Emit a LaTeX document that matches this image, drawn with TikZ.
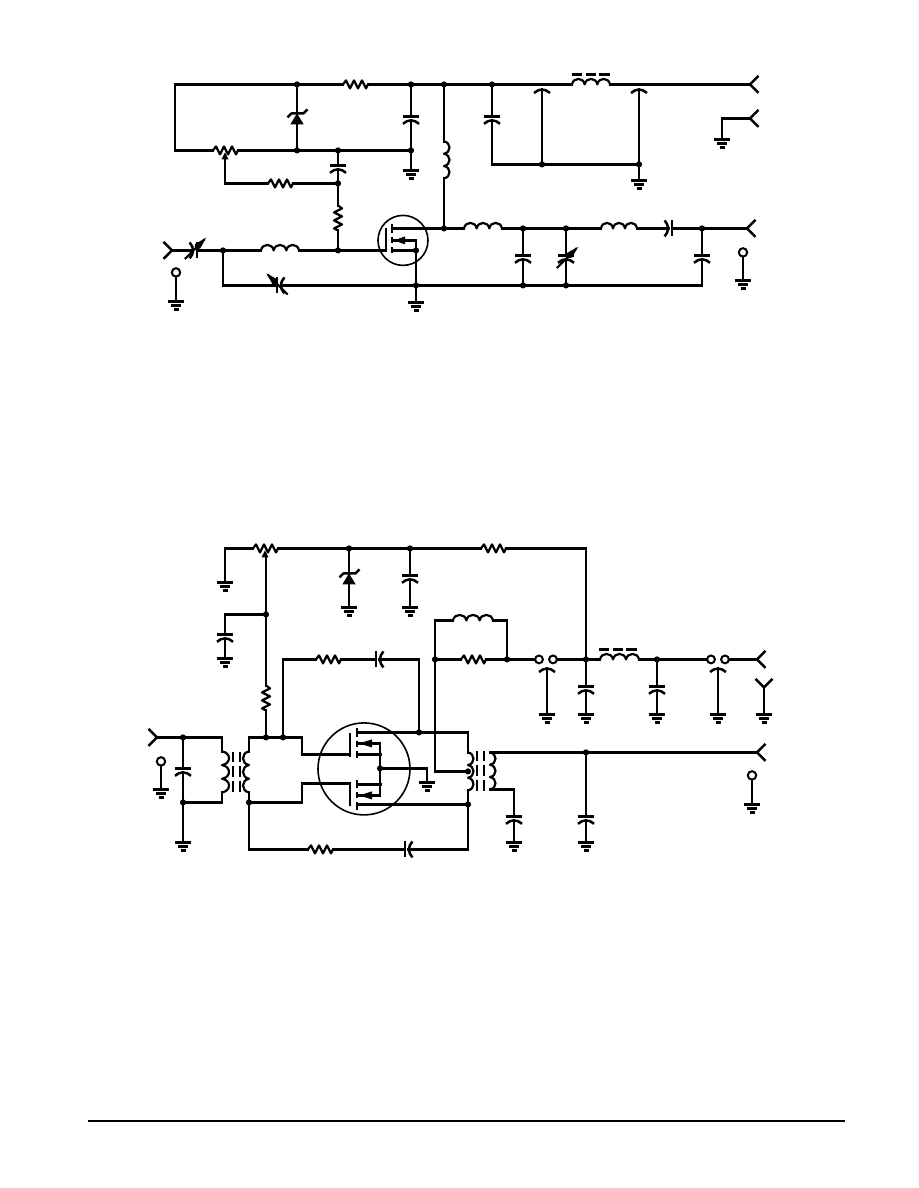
\documentclass[tikz,border=0pt]{standalone}
\tikzset{
  x=1pt,y=-1pt,
  wire/.style={line width=2.9pt,line cap=rect,line join=miter},
  sym/.style={line width=2.2pt,line join=round},
  plate/.style={line width=2.9pt},
  thin ring/.style={line width=1.6pt},
  jdot/.style={circle,fill=black,inner sep=0pt,minimum size=6.2pt},
  term/.style={circle,draw=black,fill=white,line width=2pt,inner sep=0pt,minimum size=8.4pt},
  pics/res/.style={code={\draw[sym] (0,0)--(3,-4)--(7,4)--(11,-4)--(15,4)--(19,-4)--(23,4)--(25,0);}},
  pics/pot/.style={code={\draw[sym] (0,0)--(3,-4)--(7,4)--(11,-4)--(15,4)--(19,-4)--(23,4)--(25,0);
     \fill (12,2)--(8.5,9)--(15.5,9)--cycle;}},
  pics/coil/.style 2 args={code={
     \pgfmathsetmacro\cw{#1/3}\pgfmathsetmacro\ch{-1.33*#2}
     \draw[sym] (0,0) .. controls (0.1*\cw,\ch) and (0.9*\cw,\ch) .. (\cw,0)
       .. controls (1.1*\cw,\ch) and (1.9*\cw,\ch) .. (2*\cw,0)
       .. controls (2.1*\cw,\ch) and (2.9*\cw,\ch) .. (3*\cw,0);}},
  pics/caparc/.style={code={\draw[sym,line width=2.5pt] (-8,3.6) .. controls (-3,-1) and (3,-1) .. (8,3.6);}},
  pics/cap/.style={code={\draw[plate] (-8,0)--(8,0);
     \draw[sym,line width=2.5pt] (-8,7.4) .. controls (-3,2.8) and (3,2.8) .. (8,7.4);}},
  pics/varrow/.style={code={\draw[line width=2.2pt] (-15,0)--(13,0);
     \fill (15,0)--(3,-3.4)--(-1,0)--(3,3.4)--cycle;}},
  pics/zener/.style={code={\fill (0,0)--(-6.7,11)--(6.7,11)--cycle;
     \draw[sym,line width=2.5pt] (-9.5,4)--(-5.5,0)--(6.5,0)--(10.5,-4);}},
  pics/gnd/.style={code={\draw[plate] (-8,0)--(8,0) (-5,4)--(5,4) (-2.5,8)--(2.5,8);}},
  pics/tip/.style={code={\draw[line width=2.4pt,line join=miter] (8.5,-8.5)--(0,0)--(8.5,8.5);}},
  pics/coredash/.style={code={\draw[line width=2.6pt] (0,0)--(10,0) (14,0)--(24,0) (27,0)--(38,0);}},
  pics/core/.style={code={\draw[line width=2.3pt] (0,0)--(0,10) (0,14)--(0,25) (0,29)--(0,40)
       (7,0)--(7,10) (7,14)--(7,25) (7,29)--(7,40);}},
}
\newcommand{\Jn}[3]{\coordinate (#1) at (#2,#3);\node[jdot] (#1-dot) at (#2,#3) {};}
\newcommand{\Pt}[3]{\coordinate (#1) at (#2,#3);}
\begin{document}
\begin{tikzpicture}
\useasboundingbox (0,-0.4) rectangle (918,1187.6);

%% ---------- upper circuit: junctions and end points
\Pt{tl}{175}{84}\Jn{zt}{297}{84}\Pt{ra1}{343}{84}\Pt{ra2}{368}{84}
\Jn{ct}{411}{84}\Jn{dr}{444}{84}\Jn{kt}{492}{84}\Pt{la1}{572}{84}\Pt{la2}{610}{84}\Pt{o1}{750}{84}
\Pt{bl}{175}{150}\Pt{pa1}{213}{150}\Pt{pa2}{238}{150}\Jn{zb}{297}{150}\Jn{mc}{338}{150}\Jn{cb}{411}{150}
\Pt{ctp}{411}{116}\Pt{ctq}{411}{120}\Pt{ctg}{411}{170}
\Pt{ktp}{492}{116}\Pt{ktq}{492}{120}\Pt{kb}{492}{164}\Jn{kc}{542}{164}\Jn{kd}{639}{164}
\Pt{kcu}{542}{89}\Pt{kdu}{639}{89}\Pt{kdg}{639}{180}
\Pt{o2}{750}{118}\Pt{o2c}{722}{118}\Pt{o2g}{722}{139}
\Pt{pw}{225}{156}\Pt{pwc}{225}{183}\Pt{rb1}{268}{183}\Pt{rb2}{293}{183}\Jn{mj}{338}{183}
\Pt{mcp}{338}{165}\Pt{mcq}{338}{169}\Pt{rc1}{338}{205}\Pt{rc2}{338}{230}\Jn{gj}{338}{250}
\Pt{i1}{172}{250}\Pt{vc1}{191}{250}\Pt{vc2}{197}{250}\Jn{ij}{223}{250}\Pt{lb1}{261}{250}\Pt{lb2}{299}{250}\Pt{gt}{386}{250}
\Pt{il}{223}{285}\Pt{vb1}{277}{285}\Pt{vb2}{281}{285}\Jn{sj}{416}{285}\Jn{rj}{523}{285}\Jn{rk}{566}{285}\Pt{rr}{702}{285}
\Pt{lv1}{444}{141}\Pt{lv2}{444}{178}\Jn{dj}{444}{228}\Pt{dn}{392}{228}
\Pt{lc1}{464}{228}\Pt{lc2}{502}{228}\Jn{uj}{523}{228}\Jn{uk}{566}{228}\Pt{ld1}{601}{228}\Pt{ld2}{637}{228}
\Pt{hc1}{668.5}{228}\Pt{hc2}{672}{228}\Jn{um}{702}{228}\Pt{o3}{747}{228}
\Pt{ujp}{523}{255}\Pt{ujq}{523}{259}\Pt{ukp}{566}{255}\Pt{ukq}{566}{259}\Pt{ump}{702}{255}\Pt{umq}{702}{259}
\Jn{ss}{416}{250}\Pt{sn}{392}{250}\Pt{an}{392}{240}\Pt{ac}{416}{240}\Pt{sg}{416}{302}

%% upper wires
\draw[wire] (zt)--(tl)--(bl)--(pa1);
\draw[wire] (zt)--(ra1) (ra2)--(ct)--(dr)--(kt)--(la1) (la2)--(o1);
\draw[wire] (pa2)--(zb)--(mc)--(cb);
\draw[wire] (zt)--(zb);
\draw[wire] (ct)--(ctp) (ctq)--(cb)--(ctg);
\draw[wire] (kt)--(ktp) (ktq)--(kb)--(kc)--(kd)--(kdg);
\draw[wire] (kc)--(kcu) (kd)--(kdu);
\draw[wire] (o2)--(o2c)--(o2g);
\draw[wire] (pw)--(pwc)--(rb1) (rb2)--(mj);
\draw[wire] (mc)--(mcp) (mcq)--(mj)--(rc1) (rc2)--(gj);
\draw[wire] (i1)--(vc1) (vc2)--(ij)--(lb1) (lb2)--(gj)--(gt);
\draw[wire] (ij)--(il)--(vb1) (vb2)--(sj)--(rj)--(rk)--(rr)--(umq);
\draw[wire] (dr)--(lv1) (lv2)--(dj);
\draw[wire] (dn)--(dj)--(lc1) (lc2)--(uj)--(uk)--(ld1) (ld2)--(hc1) (hc2)--(um)--(o3);
\draw[wire] (uj)--(ujp) (ujq)--(rj) (uk)--(ukp) (ukq)--(rk) (um)--(ump);
\draw[wire] (sn)--(ss)--(sj)--(sg) (an)--(ac)--(ss);

%% upper symbols
\pic at (ra1) {res};
\pic at (pa1) {pot};
\pic at (rb1) {res};
\pic[rotate=-90] at (rc1) {res};
\pic at (zt |- 0,113) {zener};
\pic at (ctp) {cap};
\pic at (mcp) {cap};
\pic at (ktp) {cap};
\pic at (kcu) {caparc};
\pic at (kdu) {caparc};
\pic at (ujp) {cap};
\pic at (ukp) {cap};
\pic at (ump) {cap};
\pic[rotate=-90] at (hc2) {cap};
\pic[rotate=-90] at (vc2) {cap};
\pic[rotate=90] at (vb1) {cap};
\pic[rotate=45] at (567.5,257) {varrow};
\pic[rotate=45] at (195.5,248) {varrow};
\pic[rotate=135] at (277,283.5) {varrow};
\pic at (la1) {coil={38}{5.5}};
\pic at (572,74) {coredash};
\pic at (lb1) {coil={38}{5.5}};
\pic at (lc1) {coil={38}{5.5}};
\pic at (ld1) {coil={36}{5.5}};
\pic[rotate=-90] at (lv1) {coil={37}{5.5}};
\pic at (ctg) {gnd};
\pic at (kdg) {gnd};
\pic at (o2g) {gnd};
\pic at (sg) {gnd};
\pic at (o1) {tip};
\pic at (o2) {tip};
\pic at (o3) {tip};
\pic[rotate=180] at (i1) {tip};
% upper terminals
\Pt{tag}{176}{301}
\Pt{tbg}{743}{280}
\node[term] (ta) at (176,272) {};
\draw[wire] (ta)--(tag);
\pic at (tag) {gnd};
\node[term] (tb) at (743,252) {};
\draw[wire] (tb)--(tbg);
\pic at (tbg) {gnd};
% upper transistor
\draw[thin ring] (403,240) circle[radius=25];
\draw[line width=2.7pt] (386,228)--(386,252);
\draw[line width=2.7pt] (392,224)--(392,233) (392,237)--(392,243) (392,247)--(392,253);
\fill (394,240)--(405,236)--(405,244)--cycle;

%% ---------- lower circuit
\Pt{bg1}{225}{582}\Pt{bc1}{225}{548}\Pt{pb1}{253}{548}\Pt{pb2}{278}{548}\Jn{zr}{349}{548}\Jn{cr}{410}{548}
\Pt{rd1}{481}{548}\Pt{rd2}{506}{548}\Pt{rc}{586}{548}\Jn{vj}{586}{659}
\Pt{pbw}{266}{554}\Jn{wj}{266}{614}\Pt{re1}{266}{685}\Pt{re2}{266}{710}\Jn{tj}{266}{737}
\Pt{wc}{225}{614}\Pt{wp}{225}{634}\Pt{wq}{225}{638}\Pt{wg}{225}{658}
\Pt{zg}{349}{607}\Pt{crp}{410}{575}\Pt{crq}{410}{579}\Pt{crg}{410}{607}
\Pt{in}{157}{737}\Jn{nj}{183}{737}\Pt{pt}{222}{737}\Pt{pc1}{222}{751}\Pt{pc2}{222}{792}\Pt{pbm}{222}{802}\Jn{nb}{183}{802}
\Pt{njp}{183}{768}\Pt{njq}{183}{772}\Pt{nbg}{183}{842}
\Pt{st}{249}{737}\Pt{sc1}{249}{751}\Pt{sc2}{249}{792}\Jn{sb}{249}{802}\Jn{fj}{283}{737}
\Pt{u1}{302}{737}\Pt{u2}{302}{754}\Pt{u3}{350}{754}
\Pt{d1}{302}{802}\Pt{d2}{302}{783}\Pt{d3}{350}{783}
\Pt{bb}{249}{849}\Pt{rf1}{308}{849}\Pt{rf2}{333}{849}\Pt{cf1}{405}{849}\Pt{cf2}{408.5}{849}\Pt{br}{468}{849}
\Pt{ft}{283}{659}\Pt{rg1}{316}{659}\Pt{rg2}{341}{659}\Pt{cg1}{376}{659}\Pt{cg2}{379.5}{659}\Pt{fr}{419}{659}\Jn{fd}{419}{732}
\Pt{dt}{357}{732}\Pt{dc}{468}{732}\Pt{qc1}{468}{752}\Pt{qc2}{468}{790}\Jn{qb}{468}{804}\Pt{dl}{357}{804}
\Jn{ch}{435}{659}\Pt{cht}{435}{620}\Pt{lt1}{453}{620}\Pt{lt2}{493}{620}\Pt{ltr}{507}{620}\Jn{rj2}{507}{659}
\Pt{cm}{435}{771}\Jn{qm}{468}{771}\Pt{rh1}{461}{659}\Pt{rh2}{486}{659}
\Pt{ls1}{600}{659}\Pt{ls2}{639}{659}\Jn{fv}{657}{659}\Pt{o4}{757}{659}
\Pt{vjp}{586}{686}\Pt{vjq}{586}{690}\Pt{vjg}{586}{714}
\Pt{fvp}{657}{686}\Pt{fvq}{657}{690}\Pt{fvg}{657}{714}
\Pt{a1}{547}{668}\Pt{a1g}{547}{714}\Pt{a2}{718}{668}\Pt{a2g}{718}{714}
\Pt{yt}{764}{687}\Pt{yg}{764}{714}
\Pt{so}{490}{752}\Jn{oj}{586}{752}\Pt{o5}{757}{752}\Pt{sl}{490}{789}\Pt{slc}{514}{789}\Pt{slp}{514}{816}\Pt{slq}{514}{820}\Pt{slg}{514}{842}
\Pt{ojp}{586}{816}\Pt{ojq}{586}{820}\Pt{ojg}{586}{842}
\Jn{cen}{380}{768}\Pt{cr2}{427}{768}\Pt{cg}{427}{782}

% lower contact pairs
\node[term,minimum size=7.8pt] (s1) at (539,659) {};
\node[term,minimum size=7.8pt] (s2) at (553,659) {};
\node[term,minimum size=7.8pt] (s3) at (711,659) {};
\node[term,minimum size=7.8pt] (s4) at (725,659) {};

% lower wires
\draw[wire] (bg1)--(bc1)--(pb1) (pb2)--(zr)--(cr)--(rd1) (rd2)--(rc)--(vj);
\draw[wire] (pbw)--(wj)--(re1) (re2)--(tj);
\draw[wire] (wj)--(wc)--(wp) (wq)--(wg);
\draw[wire] (zr)--(zg) (cr)--(crp) (crq)--(crg);
\draw[wire] (in)--(nj)--(pt)--(pc1) (pc2)--(pbm)--(nb)--(nbg);
\draw[wire] (nj)--(njp) (njq)--(nb);
\draw[wire] (sc1)--(st)--(tj)--(fj)--(u1)--(u2)--(u3);
\draw[wire] (sc2)--(sb)--(d1)--(d2)--(d3);
\draw[wire] (sb)--(bb)--(rf1) (rf2)--(cf1) (cf2)--(br)--(qb)--(qc2);
\draw[wire] (fj)--(ft)--(rg1) (rg2)--(cg1) (cg2)--(fr)--(fd);
\draw[wire] (dt)--(fd)--(dc)--(qc1);
\draw[wire] (dl)--(qb);
\draw[wire] (qm)--(cm)--(ch)--(cht)--(lt1) (lt2)--(ltr)--(rj2);
\draw[wire] (ch)--(rh1) (rh2)--(rj2)--(s1) (s2)--(vj)--(ls1) (ls2)--(fv)--(s3) (s4)--(o4);
\draw[wire] (vj)--(vjp) (vjq)--(vjg) (fv)--(fvp) (fvq)--(fvg);
\draw[wire] (a1)--(a1g) (a2)--(a2g) (yt)--(yg);
\draw[wire] (so)--(oj)--(o5) (sl)--(slc)--(slp) (slq)--(slg);
\draw[wire] (oj)--(ojp) (ojq)--(ojg);
\draw[wire] (cen)--(cr2)--(cg);

% lower symbols
\pic at (pb1) {pot};
\pic at (rd1) {res};
\pic at (rg1) {res};
\pic at (rf1) {res};
\pic at (rh1) {res};
\pic[rotate=-90] at (re1) {res};
\pic at (349,573) {zener};
\pic at (crp) {cap};
\pic at (wp) {cap};
\pic at (njp) {cap};
\pic at (vjp) {cap};
\pic at (fvp) {cap};
\pic at (slp) {cap};
\pic at (ojp) {cap};
\pic at (a1) {caparc};
\pic at (a2) {caparc};
\pic[rotate=90] at (cg1) {cap};
\pic[rotate=90] at (cf1) {cap};
\pic at (lt1) {coil={40}{5.5}};
\pic at (ls1) {coil={39}{5.5}};
\pic at (599,649) {coredash};
\pic[rotate=-90] at (pc1) {coil={41}{7}};
\pic[rotate=-90] at (sc1) {coil={41}{-6}};
\pic[rotate=-90] at (qc1) {coil={38}{5.5}};
\pic[rotate=-90] at (so) {coil={37}{5.5}};
\pic at (233,752) {core};
\pic at (477,751) {core};
\pic at (bg1) {gnd};
\pic at (wg) {gnd};
\pic at (zg) {gnd};
\pic at (crg) {gnd};
\pic at (nbg) {gnd};
\pic at (cg) {gnd};
\pic at (a1g) {gnd};
\pic at (vjg) {gnd};
\pic at (fvg) {gnd};
\pic at (a2g) {gnd};
\pic at (yg) {gnd};
\pic at (slg) {gnd};
\pic at (ojg) {gnd};
\pic at (o4) {tip};
\pic at (o5) {tip};
\pic[rotate=90] at (yt) {tip};
\pic[rotate=180] at (in) {tip};
\Pt{tcg}{161}{789}
\Pt{tdg}{752}{804}
\node[term] (tc) at (161,761) {};
\draw[wire] (tc)--(tcg);
\pic at (tcg) {gnd};
\node[term] (td) at (752,775) {};
\draw[wire] (td)--(tdg);
\pic at (tdg) {gnd};

% lower transistor pair
\draw[thin ring] (364,768.5) circle[radius=46];
\draw[line width=2.8pt] (350,733)--(350,757) (350,783)--(350,806);
\draw[line width=2.8pt] (357,728)--(357,737) (357,741)--(357,747) (357,751)--(357,758);
\draw[line width=2.8pt] (357,780)--(357,788) (357,792)--(357,798) (357,802)--(357,810);
\draw[wire] (357,754)--(381,754) (357,784)--(381,784);
\draw[wire] (357,743)--(380,743)--(380,795)--(357,795);
\fill (359,743)--(372,739)--(372,747)--cycle;
\fill (359,795)--(372,791)--(372,799)--cycle;

%% page rule
\coordinate (ruleA) at (88,1121);
\coordinate (ruleB) at (845,1121);
\draw[line width=2pt] (ruleA)--(ruleB);
\end{tikzpicture}
\end{document}
